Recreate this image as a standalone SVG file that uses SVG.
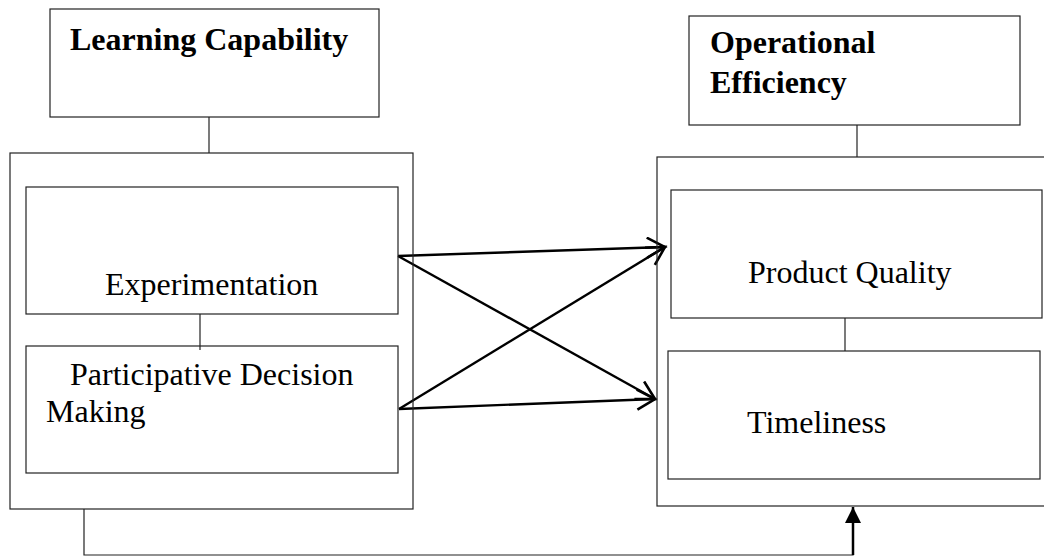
<svg xmlns="http://www.w3.org/2000/svg" width="1044" height="557" viewBox="0 0 1044 557">
<style>
.box{fill:none;stroke:#222;stroke-width:1.2}
.ln{fill:none;stroke:#222;stroke-width:1.2}
.arr{fill:none;stroke:#000;stroke-width:2.4}
.t{font-family:"Liberation Serif","Times New Roman",serif;font-size:32px;fill:#000}
.b{font-weight:bold}
</style>
<defs>
<marker id="open" markerUnits="userSpaceOnUse" markerWidth="26" markerHeight="26" refX="20" refY="11" orient="auto">
<path d="M2,1 L20,11 L2,21" fill="none" stroke="#000" stroke-width="2.6"/>
</marker>
<marker id="solid" markerUnits="userSpaceOnUse" markerWidth="20" markerHeight="20" refX="16" refY="8" orient="auto">
<path d="M0,0 L16,8 L0,16 Z" fill="#000"/>
</marker>
</defs>
<g id="connectors">
<line class="ln" x1="209" y1="117" x2="209" y2="153"/>
<line class="ln" x1="857" y1="125" x2="857" y2="157"/>
<line class="ln" x1="200" y1="314" x2="200" y2="350"/>
<line class="ln" x1="845" y1="318" x2="845" y2="351"/>
<line class="arr" x1="398" y1="256" x2="665" y2="247" marker-end="url(#open)"/>
<line class="arr" x1="398" y1="256" x2="655" y2="399" marker-end="url(#open)"/>
<line class="arr" x1="399" y1="409" x2="665" y2="247" marker-end="url(#open)"/>
<line class="arr" x1="399" y1="409" x2="655" y2="399" marker-end="url(#open)"/>
<polyline class="ln" points="84,509 84,555 853,555 853,522"/>
<line x1="853" y1="555" x2="853" y2="507" stroke="#000" stroke-width="2.5" marker-end="url(#solid)"/>
</g>
<g id="learning-capability">
<rect class="box" x="50" y="9" width="329" height="108"/>
<text class="t b" x="70" y="50">Learning Capability</text>
</g>
<g id="learning-group">
<rect class="box" x="10" y="153" width="403" height="356"/>
</g>
<g id="experimentation">
<rect class="box" x="26" y="187" width="372" height="127"/>
<text class="t" x="105" y="295">Experimentation</text>
</g>
<g id="participative-decision-making">
<rect class="box" x="26" y="346" width="372" height="127"/>
<text class="t" x="70" y="385">Participative Decision</text>
<text class="t" x="46" y="422">Making</text>
</g>
<g id="operational-efficiency">
<rect class="box" x="689" y="16" width="331" height="109"/>
<text class="t b" x="710" y="53">Operational</text>
<text class="t b" x="710" y="93">Efficiency</text>
</g>
<g id="efficiency-group">
<rect class="box" x="657" y="157" width="400" height="349"/>
</g>
<g id="product-quality">
<rect class="box" x="671" y="190" width="371" height="128"/>
<text class="t" x="748" y="283">Product Quality</text>
</g>
<g id="timeliness">
<rect class="box" x="668" y="351" width="372" height="128"/>
<text class="t" x="747" y="433">Timeliness</text>
</g>
</svg>
